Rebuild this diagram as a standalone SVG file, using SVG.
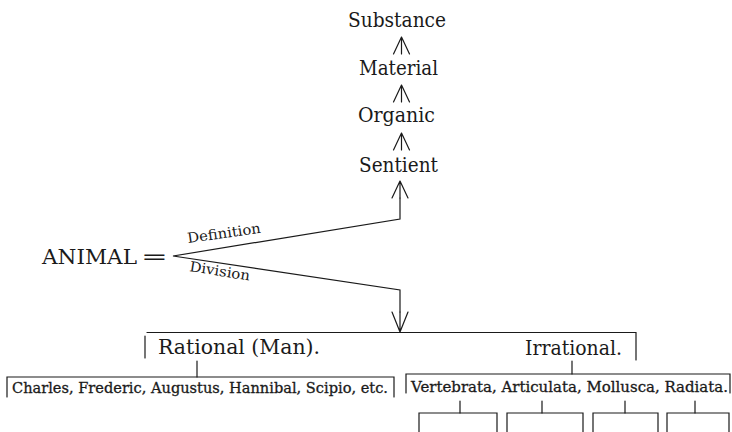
<svg xmlns="http://www.w3.org/2000/svg" width="732" height="432" viewBox="0 0 732 432">
<style>
  .t { font-family: 'DejaVu Serif', serif; fill: #1a1a1a; }
  .big { font-size: 20px; }
  .mid { font-size: 19.5px; }
  .sm { font-size: 15px; stroke: #1a1a1a; stroke-width: 0.3; }
  .lab { font-size: 14px; }
  .ln { fill: none; stroke: #1a1a1a; stroke-width: 1.2; stroke-linecap: round; stroke-linejoin: miter; }
</style>
<defs>
  <path id="up" class="ln" d="M0 0 L-8 17 M0 0 L8 17 M0 0 V17"/>
  <path id="down" class="ln" d="M0 0 L-8 -20 M0 0 L8 -20 M0 0 V-20"/>
</defs>
<rect width="732" height="432" fill="#ffffff"/>

<g id="n-substance"><text class="t big" x="397" y="27" text-anchor="middle" textLength="98" lengthAdjust="spacingAndGlyphs">Substance</text></g>
<g id="n-material"><text class="t big" x="398.5" y="75" text-anchor="middle" textLength="79" lengthAdjust="spacingAndGlyphs">Material</text></g>
<g id="n-organic"><text class="t big" x="396.5" y="122" text-anchor="middle" textLength="77" lengthAdjust="spacingAndGlyphs">Organic</text></g>
<g id="n-sentient"><text class="t big" x="398.5" y="172" text-anchor="middle" textLength="79" lengthAdjust="spacingAndGlyphs">Sentient</text></g>

<g id="n-animal">
  <text class="t" x="42" y="264" font-size="21" textLength="95" lengthAdjust="spacingAndGlyphs">ANIMAL</text>
  <text class="t" x="0" y="0" font-size="20" transform="translate(141,264) scale(1.6,1)">=</text>
</g>

<g id="n-rational">
  <text class="t mid" x="158" y="354" textLength="162" lengthAdjust="spacingAndGlyphs">Rational (Man).</text>
</g>
<g id="n-irrational">
  <text class="t mid" x="525" y="355" textLength="97" lengthAdjust="spacingAndGlyphs">Irrational.</text>
</g>
<g id="n-individuals">
  <text class="t sm" x="12" y="393" textLength="376" lengthAdjust="spacingAndGlyphs">Charles, Frederic, Augustus, Hannibal, Scipio, etc.</text>
  <path class="ln" d="M7 397 V377 H394 V397"/>
</g>
<g id="n-classes">
  <text class="t sm" x="411" y="392" textLength="317" lengthAdjust="spacingAndGlyphs">Vertebrata, Articulata, Mollusca, Radiata.</text>
  <path class="ln" d="M406 393 V374 H730 V393"/>
</g>
<g id="n-box1"><path class="ln" d="M419 432 V413 H497 V432"/></g>
<g id="n-box2"><path class="ln" d="M507 432 V413 H583 V432"/></g>
<g id="n-box3"><path class="ln" d="M593 432 V413 H658 V432"/></g>
<g id="n-box4"><path class="ln" d="M667 432 V413 H729 V432"/></g>

<g id="connectors">
  <use href="#up" x="401.5" y="37"/>
  <use href="#up" x="401.5" y="85"/>
  <use href="#up" x="401.5" y="133"/>
  <use href="#up" x="400" y="181"/>
  <path class="ln" d="M400 198 V219 L173 256 L400 290 V312"/>
  <use href="#down" x="400" y="332"/>
  <path class="ln" d="M147 332.5 H636 V360"/>
  <path class="ln" d="M145 336 V358"/>
  <path class="ln" d="M197 361 V377"/>
  <path class="ln" d="M572 361 V374"/>
  <path class="ln" d="M460 401 V413 M542 401 V413 M625 401 V413 M695 401 V413"/>
  <text class="t lab" x="188" y="243" transform="rotate(-8 188 243)" textLength="74" lengthAdjust="spacingAndGlyphs">Definition</text>
  <text class="t lab" x="189" y="271" transform="rotate(9 189 271)" textLength="61" lengthAdjust="spacingAndGlyphs">Division</text>
</g>
</svg>
